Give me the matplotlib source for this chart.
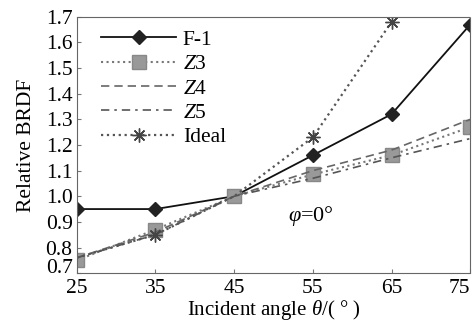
import matplotlib
matplotlib.use("Agg")
import matplotlib.pyplot as plt

plt.rcParams['font.family'] = ['Liberation Serif', 'DejaVu Serif']
plt.rcParams['mathtext.fontset'] = 'custom'
plt.rcParams['mathtext.rm'] = 'Liberation Serif'
plt.rcParams['mathtext.it'] = 'Liberation Serif:italic'

angles = [25, 35, 45, 55, 65, 75]
f1 = [0.95, 0.95, 1.00, 1.16, 1.32, 1.67]
z3 = [0.75, 0.87, 1.00, 1.085, 1.16, 1.27]
z4 = [0.76, 0.86, 1.00, 1.10, 1.18, 1.30]
z5 = [0.76, 0.85, 1.00, 1.07, 1.15, 1.225]
ideal_x = [25, 35, 45, 55, 65, 66]
ideal = [0.76, 0.85, 1.00, 1.23, 1.68, 1.74]

yticks = [0.7, 0.8, 0.9, 1.0, 1.1, 1.2, 1.3, 1.4, 1.5, 1.6, 1.7]
xticks = [25, 35, 45, 55, 65, 75]

fig = plt.figure(figsize=(4.74, 3.24), dpi=100)
ax = fig.add_axes([0.162, 0.157, 0.83, 0.791])

ax.plot(angles, f1, '-', color='#111111', lw=1.3, marker='D', ms=7,
        mfc='#222222', mec='#222222', label='F-1')
ax.plot(angles, z3, ':', color='#777777', lw=1.5, marker='s', ms=10,
        mfc='#999999', mec='#888888', label='$\\mathit{Z}$3')
ax.plot(angles, z4, '--', color='#666666', lw=1.2, dashes=(5, 3), label='$\\mathit{Z}$4')
ax.plot(angles, z5, '-.', color='#555555', lw=1.2, dashes=(5, 3, 1.5, 3), label='$\\mathit{Z}$5')
ax.plot(ideal_x, ideal, ':', color='#555555', lw=1.6, marker=(8, 2, 0), ms=10,
        mec='#444444', markevery=[1, 3, 4], label='Ideal')

ax.text(51.8, 0.905, '$\\varphi$=0°', fontsize=16)

ax.set_xlim(25, 75)
ax.set_ylim(0.7, 1.7)
ax.set_xticks(xticks)
ax.set_yticks(yticks)
ax.set_yticklabels(['%.1f' % v for v in yticks])
ax.tick_params(direction='in', length=3, labelsize=15.5, color='#777777')
ax.tick_params(axis='y', pad=3)
ax.tick_params(axis='x', pad=4)
labs = ax.get_xticklabels()
labs[-1].set_horizontalalignment('right')
ax.get_yticklabels()[0].set_verticalalignment('baseline')
for sp in ax.spines.values():
    sp.set_color('#666666')
    sp.set_linestyle((0, (2, 1)))

ax.set_xlabel('Incident angle $\\mathit{\\theta}$/( ° )', fontsize=15, labelpad=0)
ax.set_ylabel('Relative BRDF', fontsize=15.5, labelpad=7)

ax.legend(loc='upper left', bbox_to_anchor=(0.012, 1.025), frameon=False,
          fontsize=15.5, handlelength=3.5, labelspacing=0.2, handletextpad=0.3)

fig.savefig('out.png', dpi=100)
